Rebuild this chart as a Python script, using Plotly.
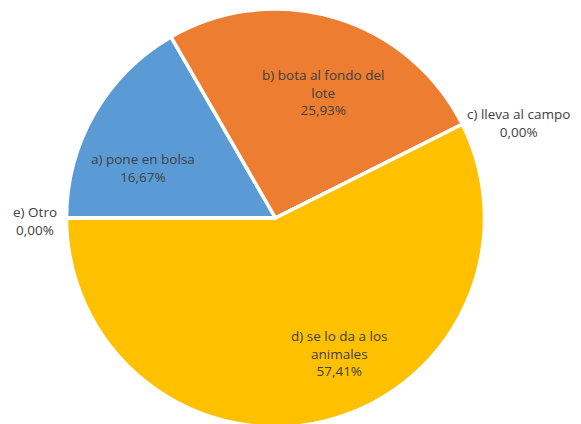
import plotly.graph_objects as go

labels = ["a) pone en bolsa", "b) bota al fondo del lote", "c) lleva al campo", "d) se lo da a los animales", "e) Otro"]
label_lines = ["a) pone en bolsa", "b) bota al fondo del<br>lote", "c) lleva al campo", "d) se lo da a los<br>animales", "e) Otro"]
values = [16.67, 25.93, 0.0, 57.41, 0.0]
colors = ["#5B9BD5", "#ED7D31", "#A5A5A5", "#FFC000", "#4472C4"]
# data-label anchor points (pixel centres of each label block)
label_pos = [(143, 168), (323, 92), (518, 123), (339, 353), (35, 221)]

W, H = 581, 428  # window is 424 tall; pie's bottom edge runs just off the page
cx, cy, r = 275.5, 218, 209
fig = go.Figure(go.Pie(
    labels=labels,
    values=values,
    textinfo="none",
    sort=False,
    direction="clockwise",
    rotation=270,
    marker=dict(colors=colors, line=dict(color="white", width=3.5)),
    domain=dict(x=[(cx - r) / W, (cx + r) / W], y=[(H - cy - r) / H, (H - cy + r) / H]),
    showlegend=False,
    hoverinfo="label+percent",
))
for lab, v, (px, py) in zip(label_lines, values, label_pos):
    txt = f"{lab}<br>{v:.2f}%".replace(".", ",")
    fig.add_annotation(
        x=px / W, y=1 - py / H, xref="paper", yref="paper",
        text=txt, showarrow=False, xanchor="center", yanchor="middle",
        font=dict(family="Open Sans", size=13.5, color="#404040"),
    )
fig.update_layout(
    width=W, height=H,
    margin=dict(l=0, r=0, t=0, b=0),
    paper_bgcolor="white",
)
fig.write_html(
    "out.html",
    config={"displayModeBar": False},
    post_script="document.body.style.margin='0';document.body.style.overflow='hidden';",
)
